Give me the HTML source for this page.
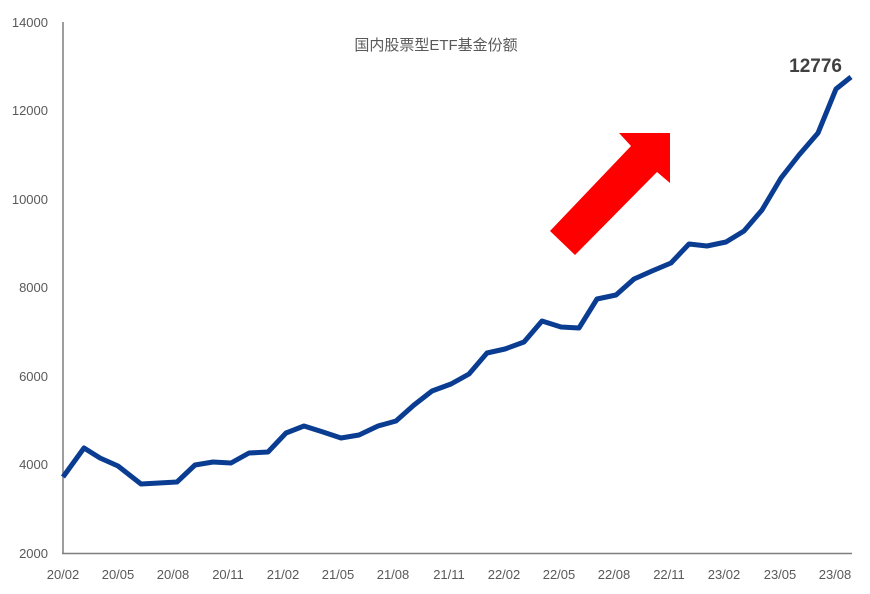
<!DOCTYPE html>
<html><head><meta charset="utf-8"><style>
body{margin:0;background:#fff;}
svg{display:block;font-family:"Liberation Sans","Noto Sans CJK SC",sans-serif;}
</style></head><body>
<svg width="870" height="594" viewBox="0 0 870 594">
<g fill="#595959" font-size="13" text-anchor="end">
<text x="48" y="27">14000</text>
<text x="48" y="115">12000</text>
<text x="48" y="204">10000</text>
<text x="48" y="292">8000</text>
<text x="48" y="381">6000</text>
<text x="48" y="469">4000</text>
<text x="48" y="558">2000</text>
</g>
<line x1="63" y1="22" x2="63" y2="554" stroke="#7f7f7f" stroke-width="1.5"/>
<line x1="62" y1="553.5" x2="852" y2="553.5" stroke="#7f7f7f" stroke-width="1.5"/>
<g fill="#595959" font-size="13" text-anchor="middle">
<text x="63" y="579">20/02</text><text x="118" y="579">20/05</text><text x="173" y="579">20/08</text>
<text x="228" y="579">20/11</text><text x="283" y="579">21/02</text><text x="338" y="579">21/05</text>
<text x="393" y="579">21/08</text><text x="449" y="579">21/11</text><text x="504" y="579">22/02</text>
<text x="559" y="579">22/05</text><text x="614" y="579">22/08</text><text x="669" y="579">22/11</text>
<text x="724" y="579">23/02</text><text x="780" y="579">23/05</text><text x="835" y="579">23/08</text>
</g>
<text x="436" y="50" font-size="15" fill="#595959" text-anchor="middle">国内股票型ETF基金份额</text>
<text x="842" y="72" font-size="19" font-weight="bold" fill="#404040" text-anchor="end">12776</text>
<polygon points="550,231 631,146 619,133 670,133 670,183 657,172 575,255" fill="#ff0000"/>
<polyline fill="none" stroke="#0a3d91" stroke-width="5" stroke-linejoin="round"
points="63,477 84,448 100,458 118,466 141,484 159,483 177,482 195,465 213,462 231,463 249,453 268,452 286,433 304,426 323,432 341,438 359,435 378,426 396,421 414,405 432,391 451,384 469,374 487,353 505,349 524,342 542,321 561,327 579,328 597,299 616,295 634,279 652,271 671,263 689,244 707,246 726,242 744,231 762,210 781,178 799,155 818,133 836,89 851,77"/>
</svg>
</body></html>
